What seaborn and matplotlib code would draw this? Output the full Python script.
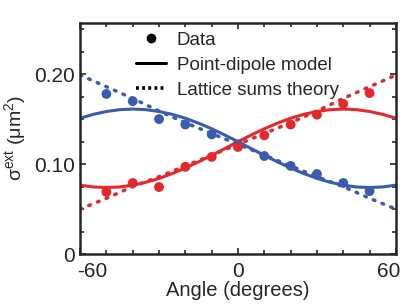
import matplotlib
matplotlib.use("Agg")
import matplotlib.pyplot as plt
from matplotlib.lines import Line2D
from matplotlib.ticker import MultipleLocator, FixedLocator
from matplotlib.transforms import ScaledTranslation
import seaborn as sns
import pandas as pd

sns.set_style("ticks")
plt.rcParams['font.family'] = ['Liberation Sans', 'DejaVu Sans']
plt.rcParams['mathtext.default'] = 'regular'

BLUE = "#3a5cae"
RED = "#e9262b"

# measured data
angles_data = [-50, -40, -30, -20, -10, 0, 10, 20, 30, 40, 50]
blue_data = [0.178, 0.170, 0.150, 0.144, 0.133, 0.122, 0.109, 0.098, 0.089, 0.079, 0.070]
red_data = [0.069, 0.079, 0.0745, 0.097, 0.108, 0.119, 0.132, 0.144, 0.155, 0.167, 0.179]

# point-dipole model (solid)
angles_model = [-60, -55, -50, -45, -40, -35, -30, -25, -20, -15, -10, -5, 0,
                5, 10, 15, 20, 25, 30, 35, 40, 45, 50, 55, 60]
blue_model = [0.1510, 0.1553, 0.1585, 0.1605, 0.1612, 0.1605, 0.1585, 0.1553, 0.1510,
              0.1455, 0.1393, 0.1323, 0.1249, 0.1173, 0.1097, 0.1025, 0.0957, 0.0895,
              0.0841, 0.0798, 0.0766, 0.0746, 0.0740, 0.0746, 0.0766]
red_model = blue_model[::-1]

# lattice sums theory (dotted)
angles_lattice = [-60, -50, -40, -30, -20, -10, 0, 10, 20, 30, 40, 50, 60]
blue_lattice = [0.199, 0.186, 0.173, 0.159, 0.146, 0.134, 0.122, 0.110, 0.098, 0.086, 0.075, 0.062, 0.050]
red_lattice = blue_lattice[::-1]

xtick_vals = [-60, 0, 60]
xtick_labels = ['-60', '0', '60']
ytick_vals = [0, 0.1, 0.2]
ytick_labels = ['0', '0.10', '0.20']

fig = plt.figure(figsize=(4.15, 3.05), dpi=100)
ax = fig.add_axes([0.193, 0.167, 0.761, 0.758])

dot_style = dict(linestyle=(0, (0.5, 2.2)), dash_capstyle='round')
sns.lineplot(x=angles_lattice, y=blue_lattice, ax=ax, color=BLUE, lw=2.5, **dot_style)
sns.lineplot(x=angles_lattice, y=red_lattice, ax=ax, color=RED, lw=2.5, **dot_style)
sns.lineplot(x=angles_model, y=blue_model, ax=ax, color=BLUE, lw=2.2)
sns.lineplot(x=angles_model, y=red_model, ax=ax, color=RED, lw=2.2)
sns.scatterplot(x=angles_data, y=blue_data, ax=ax, color=BLUE, s=50, edgecolor='none', zorder=5)
sns.scatterplot(x=angles_data, y=red_data, ax=ax, color=RED, s=50, edgecolor='none', zorder=5)

ax.set_xlim(-60, 60)
ax.set_ylim(0, 0.257)
ax.xaxis.set_major_locator(FixedLocator(xtick_vals))
ax.xaxis.set_minor_locator(MultipleLocator(10))
ax.set_xticklabels(xtick_labels)
ax.yaxis.set_major_locator(FixedLocator(ytick_vals))
ax.yaxis.set_minor_locator(MultipleLocator(0.025))
ax.set_yticklabels(ytick_labels)
ax.tick_params(which='both', direction='in', top=True, right=True, width=1.2,
               labelsize=15)
ax.tick_params(axis='x', pad=6)
ax.tick_params(axis='y', pad=4)
ax.tick_params(which='major', length=4)
ax.tick_params(which='minor', length=3)
for sp in ax.spines.values():
    sp.set_linewidth(1.8)

xl = ax.get_xticklabels()
xl[0].set_ha('left')
xl[0].set_transform(xl[0].get_transform() + ScaledTranslation(-3 / 100, 0, fig.dpi_scale_trans))
xl[-1].set_ha('right')
xl[-1].set_transform(xl[-1].get_transform() + ScaledTranslation(4 / 100, 0, fig.dpi_scale_trans))

ax.set_xlabel('Angle (degrees)', fontsize=14.5, labelpad=0)
ax.set_ylabel(r'$\sigma^{ext}$ ($\mu$m$^2$)', fontsize=14, labelpad=4)

handles = [
    Line2D([], [], color='black', marker='o', linestyle='none', markersize=6),
    Line2D([], [], color='black', lw=2.2),
    Line2D([], [], color='black', lw=2.6, linestyle=(0, (0.8, 0.9))),
]
ax.legend(handles, ['Data', 'Point-dipole model', 'Lattice sums theory'],
          loc='upper left', bbox_to_anchor=(0.14, 1.01), frameon=False,
          fontsize=13.5, handlelength=1.6, handletextpad=0.6, labelspacing=0.42,
          borderaxespad=0.2)

fig.savefig('out.png', dpi=100)
